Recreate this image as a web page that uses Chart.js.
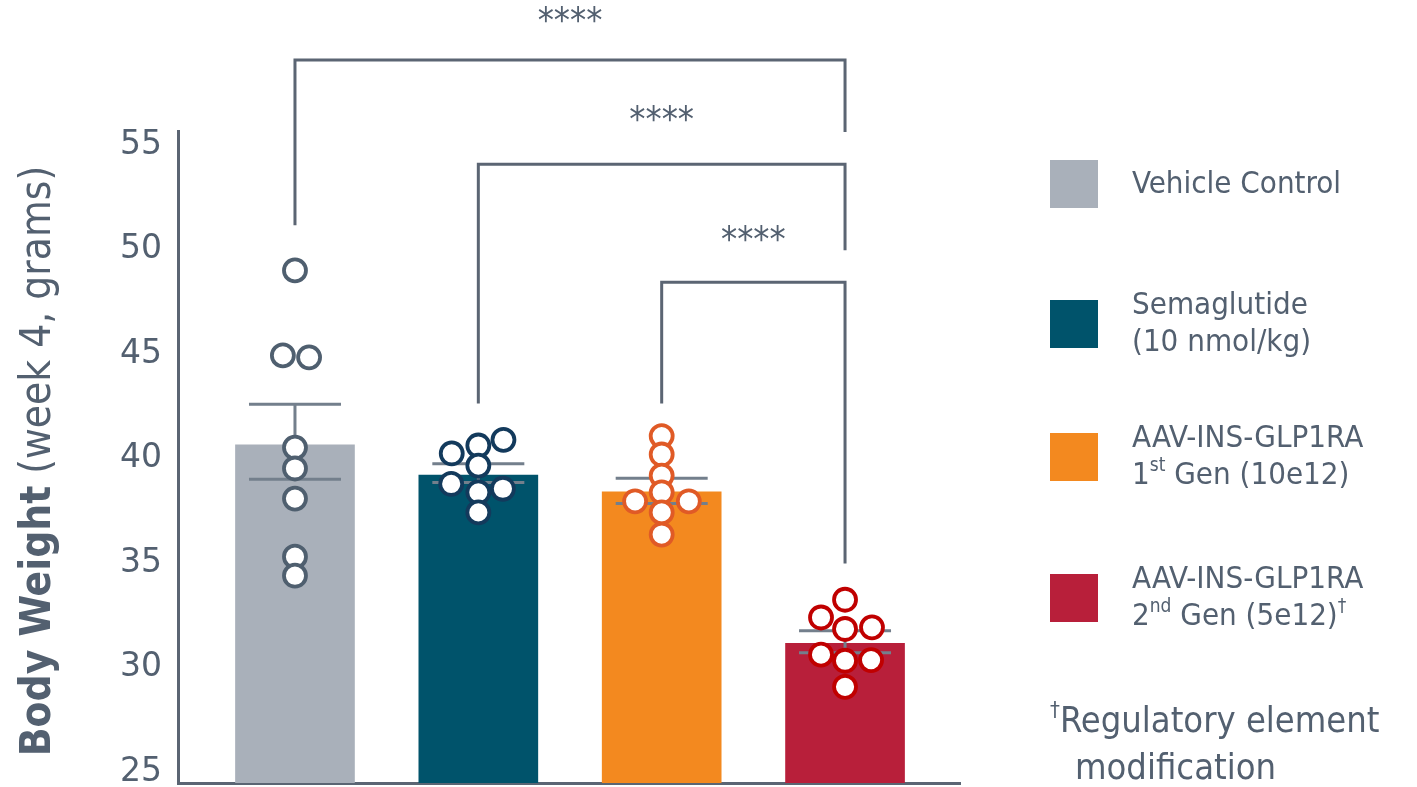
<!DOCTYPE html>
<html>
<head>
<meta charset="utf-8">
<script src="https://cdn.jsdelivr.net/npm/chart.js@4.4.0/dist/chart.umd.min.js"></script>
<style>
  html, body { margin: 0; padding: 0; background: #fff; }
</style>
</head>
<body>
<canvas id="grafica" width="1417" height="787"></canvas>
<script>
const grupos = ['Vehicle Control', 'Semaglutide (10 nmol/kg)', 'AAV-INS-GLP1RA 1st Gen (10e12)', 'AAV-INS-GLP1RA 2nd Gen (5e12)†'];
const medias = [40.65, 39.2, 38.4, 31.15];
const errorAlto = [42.6, 39.75, 39.05, 31.75];
const errorBajo = [39.0, 38.85, 37.85, 30.7];
const ticksY = [25, 30, 35, 40, 45, 50, 55];

// animales por grupo (peso) y su desplazamiento horizontal dentro de la barra
const pesosVehiculo = [49.0, 44.93, 44.84, 40.52, 39.52, 38.08, 35.3, 34.39];
const jitterVehiculo = [0, -0.066, 0.077, 0, 0, 0, 0, 0];
const pesosSema = [40.24, 40.62, 40.89, 39.66, 38.78, 38.55, 38.38, 37.42];
const jitterSema = [-0.145, 0, 0.137, 0, -0.148, 0.134, 0, 0];
const pesosGen1 = [41.07, 40.19, 39.18, 38.38, 37.95, 37.95, 37.42, 36.36];
const jitterGen1 = [0, 0, 0, 0, -0.145, 0.148, 0, 0];
const pesosGen2 = [33.24, 32.39, 31.84, 31.92, 30.61, 30.32, 30.35, 29.07];
const jitterGen2 = [0, -0.131, 0, 0.147, -0.131, 0, 0.142, 0];

// comparaciones: grupo a grupo, altura de la barra y final de cada pata
const comparaciones = [
  { desde: 0, hasta: 3, y: 59.07, pataIzq: 51.16, pataDer: 55.62, texto: '****', yTexto: 60.84 },
  { desde: 1, hasta: 3, y: 54.08, pataIzq: 42.63, pataDer: 49.96, texto: '****', yTexto: 56.14 },
  { desde: 2, hasta: 3, y: 48.43, pataIzq: 42.63, pataDer: 34.97, texto: '****', yTexto: 50.39 }
];

const coloresBarra = ['#a9b0ba', '#00536b', '#f3891f', '#b81f3a'];
const coloresPunto = ['#4f5f6f', '#133a5c', '#e05a26', '#c00000'];
const colorTexto = '#536070';
const fuente = '"DejaVu Sans Condensed", "DejaVu Sans", sans-serif';

// leyenda: cada renglón es una lista de [texto, superíndice]
const leyenda = [
  [[['Vehicle Control', false]]],
  [[['Semaglutide', false]], [['(10 nmol/kg)', false]]],
  [[['AAV-INS-GLP1RA', false]], [['1', false], ['st', true], [' Gen (10e12)', false]]],
  [[['AAV-INS-GLP1RA', false]], [['2', false], ['nd', true], [' Gen (5e12)', false], ['†', true]]]
];

function puntos(pesos, jitter, i) {
  return pesos.map((p, k) => ({ x: i + jitter[k], y: p }));
}

function textoRico(ctx, partes, x, y, size) {
  let cx = x;
  partes.forEach(([t, sup]) => {
    ctx.font = (sup ? Math.round(size * 0.62) : size) + 'px ' + fuente;
    ctx.fillText(t, cx, sup ? y - size * 0.33 : y);
    cx += ctx.measureText(t).width;
  });
}

const barrasError = {
  id: 'barrasError',
  afterDatasetDraw(chart, args) {
    if (args.index !== 0) return;
    const { ctx, scales: { x, y } } = chart;
    ctx.save();
    ctx.strokeStyle = '#737f8c';
    ctx.lineWidth = 3;
    medias.forEach((m, i) => {
      const px = x.getPixelForValue(i);
      const arriba = y.getPixelForValue(errorAlto[i]);
      const abajo = y.getPixelForValue(errorBajo[i]);
      ctx.beginPath();
      ctx.moveTo(px, arriba); ctx.lineTo(px, abajo);
      ctx.moveTo(px - 46, arriba); ctx.lineTo(px + 46, arriba);
      ctx.moveTo(px - 46, abajo); ctx.lineTo(px + 46, abajo);
      ctx.stroke();
    });
    ctx.restore();
  }
};

const extras = {
  id: 'extras',
  afterDraw(chart) {
    const { ctx, scales: { x, y } } = chart;
    ctx.save();

    // corchetes de significancia
    ctx.strokeStyle = '#5b6573';
    ctx.lineWidth = 3;
    ctx.fillStyle = colorTexto;
    ctx.textAlign = 'center';
    ctx.textBaseline = 'middle';
    comparaciones.forEach(c => {
      const x1 = x.getPixelForValue(c.desde);
      const x2 = x.getPixelForValue(c.hasta);
      const yy = y.getPixelForValue(c.y);
      ctx.beginPath();
      ctx.moveTo(x1, y.getPixelForValue(c.pataIzq));
      ctx.lineTo(x1, yy);
      ctx.lineTo(x2, yy);
      ctx.lineTo(x2, y.getPixelForValue(c.pataDer));
      ctx.stroke();
      ctx.font = '36px ' + fuente;
      ctx.fillText(c.texto, (x1 + x2) / 2, y.getPixelForValue(c.yTexto));
    });

    // titulo del eje Y
    ctx.save();
    ctx.translate(39, 461);
    ctx.rotate(-Math.PI / 2);
    ctx.textAlign = 'left';
    const negrita = 'bold 42px ' + fuente;
    const normal = '42px ' + fuente;
    ctx.font = negrita;
    const w1 = ctx.measureText('Body Weight').width;
    ctx.font = normal;
    const w2 = ctx.measureText(' (week 4, grams)').width;
    const x0 = -(w1 + w2) / 2;
    ctx.font = negrita;
    ctx.fillText('Body Weight', x0, 0);
    ctx.font = normal;
    ctx.fillText(' (week 4, grams)', x0 + w1, 0);
    ctx.restore();

    // leyenda
    const topes = [160, 300, 433, 574];
    ctx.textAlign = 'left';
    leyenda.forEach((renglones, i) => {
      ctx.fillStyle = coloresBarra[i];
      ctx.fillRect(1050, topes[i], 48, 48);
      ctx.fillStyle = colorTexto;
      const centro = topes[i] + 24;
      if (renglones.length === 1) {
        textoRico(ctx, renglones[0], 1132, centro + 1, 31);
      } else {
        textoRico(ctx, renglones[0], 1132, centro - 18, 31);
        textoRico(ctx, renglones[1], 1132, centro + 19, 31);
      }
    });
    textoRico(ctx, [['†', true], ['Regulatory element', false]], 1050, 723, 36);
    textoRico(ctx, [['modification', false]], 1075, 770, 36);

    ctx.restore();
  }
};

const ctx = document.getElementById('grafica').getContext('2d');
const grafica = new Chart(ctx, {
  type: 'bar',
  data: {
    datasets: [
      {
        type: 'bar',
        label: 'Media',
        data: medias.map((m, i) => ({ x: i, y: m })),
        backgroundColor: coloresBarra,
        barThickness: 119,
        order: 2
      },
      ...[pesosVehiculo, pesosSema, pesosGen1, pesosGen2].map((pesos, i) => ({
        type: 'scatter',
        label: grupos[i],
        data: puntos(pesos, [jitterVehiculo, jitterSema, jitterGen1, jitterGen2][i], i),
        pointBackgroundColor: '#ffffff',
        pointBorderColor: coloresPunto[i],
        pointBorderWidth: 3.8,
        pointRadius: 11,
        pointHoverRadius: 11,
        order: 1
      }))
    ]
  },
  options: {
    responsive: false,
    animation: false,
    events: [],
    layout: { autoPadding: false, padding: { top: 131, right: 457, bottom: 4, left: 0 } },
    plugins: {
      legend: { display: false },
      tooltip: { enabled: false },
      title: { display: false }
    },
    scales: {
      x: {
        type: 'linear',
        offset: false,
        min: -0.638,
        max: 3.627,
        ticks: { display: false },
        grid: { display: false, drawTicks: false, offset: false },
        border: { display: true, color: '#5b6573', width: 3 },
        afterFit: s => { s.height = 0; s.paddingLeft = 0; s.paddingRight = 0; }
      },
      y: {
        min: 24.47,
        max: 55.67,
        afterBuildTicks: s => { s.ticks = ticksY.map(v => ({ value: v })); },
        afterFit: s => { s.width = 178; s.paddingTop = 0; s.paddingBottom = 0; },
        ticks: {
          color: colorTexto,
          padding: 16,
          font: { family: '"DejaVu Sans", sans-serif', size: 33 }
        },
        grid: { display: false, drawTicks: false },
        border: { display: true, color: '#5b6573', width: 3 }
      }
    }
  },
  plugins: [barrasError, extras]
});
</script>
</body>
</html>
